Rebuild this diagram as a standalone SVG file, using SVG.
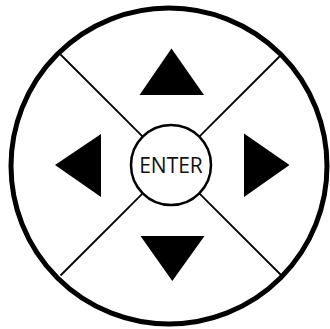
<svg xmlns="http://www.w3.org/2000/svg" width="330" height="329" viewBox="0 0 330 329">
<style>
.ring{fill:#fff;stroke:#000;stroke-width:5}
.btn{fill:#fff;stroke:#000;stroke-width:2.5}
.div{stroke:#000;stroke-width:1.8;fill:none}
.arrow{fill:#000}
.lbl{font-family:"Open Sans","DejaVu Sans",sans-serif;font-size:21px;fill:#111;text-anchor:middle}
</style>
<rect width="330" height="329" fill="#fff"/>
<g id="outer"><circle class="ring" cx="169" cy="166" r="158"/></g>
<g id="connectors">
<line class="div" x1="142.7" y1="136.7" x2="60.5" y2="54.5"/>
<line class="div" x1="199.3" y1="136.7" x2="281.5" y2="54.5"/>
<line class="div" x1="142.7" y1="193.3" x2="60.5" y2="275.5"/>
<line class="div" x1="199.3" y1="193.3" x2="281.5" y2="275.5"/>
</g>
<g id="up"><polygon class="arrow" points="171.5,48.5 139.5,95 204,95"/></g>
<g id="down"><polygon class="arrow" points="140.5,236 204.5,236 172.3,281"/></g>
<g id="left"><polygon class="arrow" points="55,165 101,134 101,197"/></g>
<g id="right"><polygon class="arrow" points="244,133.5 244,197 289.5,165"/></g>
<g id="enter"><circle class="btn" cx="171" cy="165" r="40"/><text class="lbl" x="171" y="173">ENTER</text></g>
</svg>
